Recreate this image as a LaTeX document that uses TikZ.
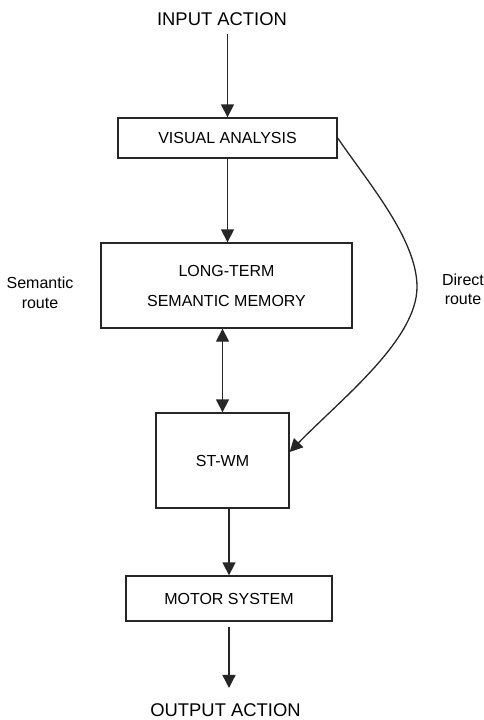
\documentclass[tikz,border=0pt]{standalone}
\usepackage{fontspec}
\setmainfont{Liberation Sans}
\usetikzlibrary{arrows.meta}
\begin{document}
\begin{tikzpicture}[x=1pt,y=-1pt,
  box/.style={draw=black!85, line width=1.3pt, inner sep=0pt, align=center, font=\fontsize{16}{20}\selectfont},
  lbl/.style={inner sep=0pt, outer sep=0pt, align=center, font=\fontsize{16}{19.5}\selectfont},
  big/.style={inner sep=0pt, outer sep=0pt, font=\fontsize{18.4}{22}\selectfont},
  tip/.style={},
  arr/.style={line width=1.3pt, draw=black!85, -{Triangle[length=13pt,width=13pt]}},
  darr/.style={line width=1.3pt, draw=black!85, {Triangle[length=13pt,width=13pt]}-{Triangle[length=13pt,width=13pt]}}]
\useasboundingbox (0,0) rectangle (484,720);
\node[big] (input) at (222,19.5) {INPUT ACTION};
\node[box, minimum width=219pt, minimum height=40pt] (va) at (227.5,138) {VISUAL ANALYSIS};
\node[box, minimum width=251pt, minimum height=85pt] (ltm) at (226.5,285.5) {LONG-TERM\\[10pt]SEMANTIC MEMORY};
\node[box, minimum width=133pt, minimum height=95pt] (stwm) at (222.5,460.5) {ST-WM};
\node[box, minimum width=206pt, minimum height=45pt] (ms) at (229,598.5) {MOTOR SYSTEM};
\node[big] (output) at (225.5,710.5) {OUTPUT ACTION};
\node[lbl] (sem) at (40,293) {Semantic\\route};
\node[lbl] (dir) at (463,289.5) {Direct\\route};
\coordinate (bend) at (417,287);
\coordinate (entry) at ([yshift=8.5pt]stwm.east);
\draw[arr, shorten <=8pt] (va.north |- input.south) -- (va.north);
\draw[arr] (va.south) -- (va.south |- ltm.north);
\draw[darr] (stwm.north |- ltm.south) -- (stwm.north);
\draw[arr] (ms.north |- stwm.south) -- (ms.north);
\draw[arr, shorten <=5pt, shorten >=16pt] (ms.south) -- (ms.south |- output.north);
\draw[arr] (va.east) .. controls (370,185) and (417,240) .. (bend)
  .. controls (417,340) and (340,400) .. (entry);
\end{tikzpicture}
\end{document}
